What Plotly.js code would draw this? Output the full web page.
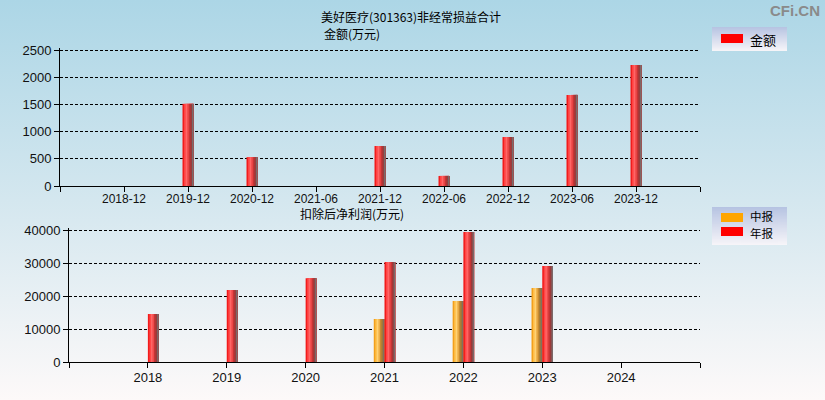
<!DOCTYPE html>
<html>
<head>
<meta charset="utf-8">
<script src="https://cdn.plot.ly/plotly-3.0.1.min.js"></script>
<style>
	html, body { margin: 0; padding: 0; }
	body { background: linear-gradient(to bottom, #acd6e6 0%, #d4e7ef 50%, #fdf9f9 100%); }
	#chart { width: 825px; height: 400px; }
</style>
</head>
<body>
<div id="chart"></div>
<script>
const periods = ["2018-12", "2019-12", "2020-12", "2021-06", "2021-12", "2022-06", "2022-12", "2023-06", "2023-12"];
const amount = [null, 1510, 530, null, 735, 185, 900, 1675, 2225];

const years = ["2018", "2019", "2020", "2021", "2022", "2023", "2024"];
const midReport = [null, null, null, 13100, 18600, 22500, null];
const annualReport = [14600, 21900, 25500, 30400, 39500, 29200, null];

const names = { amount: "金额", mid: "中报", annual: "年报" };

// cylinder look: strips from left to right
const redStrips = ["#f21c1c", "#ff4545", "#ff6666", "#ef4a4a", "#c83434", "#9a3a3a", "#7a6a6a"];
const orangeStrips = ["#f2a01c", "#ffbf4a", "#ffd274", "#eeb04a", "#c88a30", "#a07838", "#807060"];

const font = "Liberation Sans, Arial, sans-serif";
const cjk = "Noto Sans CJK SC, sans-serif";

function px(x) {
	return (x - 60) / 640;
}
function py(y) {
	return 1 - y / 400;
}

function positions(list) {
	return list.map((c, i) => i);
}

function barStrips(xs, ys, colors, left, width, xaxis, yaxis, name) {
	const step = width / colors.length;
	return colors.map((c, i) => ({
		type: "bar",
		name: name,
		x: xs,
		y: ys,
		offset: left + i * step,
		width: width - i * step,
		marker: { color: c, line: { width: 0 } },
		xaxis: xaxis,
		yaxis: yaxis,
		showlegend: false,
		hovertemplate: name + ": %{y}<extra></extra>"
	}));
}

function gradient(top, bottom) {
	const c = document.createElement("canvas");
	c.width = 4;
	c.height = 100;
	const ctx = c.getContext("2d");
	const g = ctx.createLinearGradient(0, 0, 0, 100);
	g.addColorStop(0, top);
	g.addColorStop(1, bottom);
	ctx.fillStyle = g;
	ctx.fillRect(0, 0, 4, 100);
	return c.toDataURL();
}

const topX = positions(periods);
const botX = positions(years);

const data = []
	.concat(barStrips(topX, amount, redStrips, -0.086, 0.172, "x", "y", names.amount))
	.concat(barStrips(botX, midReport, orangeStrips, -0.136, 0.136, "x2", "y2", names.mid))
	.concat(barStrips(botX, annualReport, redStrips, 0, 0.136, "x2", "y2", names.annual));

const legendBg = gradient("#b6c3e2", "#f7f5f9");

function legendBox(y0, y1) {
	return {
		source: legendBg,
		xref: "paper",
		yref: "paper",
		x: px(712),
		y: py(y0),
		sizex: 75 / 640,
		sizey: (y1 - y0) / 400,
		sizing: "stretch",
		xanchor: "left",
		yanchor: "top",
		layer: "below"
	};
}

function swatch(yc, color) {
	return {
		type: "rect",
		xref: "paper",
		yref: "paper",
		x0: px(721),
		x1: px(743),
		y0: py(yc - 4.5),
		y1: py(yc + 4.5),
		fillcolor: color,
		line: { width: 0 }
	};
}

function label(text, x, y, xanchor, size) {
	return {
		text: text,
		xref: "paper",
		yref: "paper",
		x: px(x),
		y: py(y),
		xanchor: xanchor,
		yanchor: "middle",
		showarrow: false,
		font: { family: cjk, size: size || 12, color: "#000" }
	};
}

const axisY = {
	showline: true,
	linecolor: "#000",
	linewidth: 1,
	ticks: "outside",
	ticklen: 5,
	tickcolor: "#000",
	gridcolor: "#000",
	griddash: "3px,2px",
	gridwidth: 1,
	zeroline: false,
	tickformat: "d",
	tickfont: { family: font, size: 13, color: "#111" }
};

const axisX = {
	showline: true,
	linecolor: "#000",
	linewidth: 1,
	ticks: "outside",
	ticklen: 5,
	tickcolor: "#000",
	showgrid: false,
	zeroline: false,
	tickmode: "array"
};

// ranges reach a bit past the top tick so its grid line is kept
const layout = {
	width: 825,
	height: 400,
	margin: { l: 60, r: 125, t: 0, b: 0, pad: 0 },
	paper_bgcolor: "rgba(0,0,0,0)",
	plot_bgcolor: "rgba(0,0,0,0)",
	barmode: "overlay",
	showlegend: false,
	xaxis: Object.assign({}, axisX, {
		domain: [0, 1],
		anchor: "y",
		range: [-1, periods.length],
		tickvals: [-1].concat(topX, [periods.length]),
		ticktext: [""].concat(periods, [""]),
		ticklabelstandoff: -3,
		tickfont: { family: font, size: 12, color: "#111" }
	}),
	yaxis: Object.assign({}, axisY, {
		domain: [py(186), py(48)],
		anchor: "x",
		range: [0, 2537],
		tickvals: [0, 500, 1000, 1500, 2000, 2500]
	}),
	xaxis2: Object.assign({}, axisX, {
		domain: [px(69), 1],
		anchor: "y2",
		range: [-1, years.length],
		tickvals: [-1].concat(botX, [years.length]),
		ticktext: [""].concat(years, [""]),
		ticklabelstandoff: -2,
		tickfont: { family: font, size: 13, color: "#111" }
	}),
	yaxis2: Object.assign({}, axisY, {
		domain: [py(362.3), py(228.3)],
		anchor: "x2",
		range: [0, 40606],
		tickvals: [0, 10000, 20000, 30000, 40000]
	}),
	images: [legendBox(27, 51), legendBox(207, 245)],
	shapes: [swatch(38.5, "#ff0000"), swatch(217.5, "#ffa500"), swatch(231.5, "#ff0000")],
	annotations: [
		label("美好医疗(301363)非经常损益合计", 411, 17, "center"),
		label("金额(万元)", 322, 33, "left"),
		label("扣除后净利润(万元)", 298, 213, "left"),
		label(names.amount, 748, 39, "left", 13),
		label(names.mid, 748, 216, "left", 11.5),
		label(names.annual, 748, 232.5, "left", 11.5),
		{
			text: "<b>CFi.CN</b>",
			xref: "paper",
			yref: "paper",
			x: px(822),
			y: py(10),
			xanchor: "right",
			yanchor: "middle",
			showarrow: false,
			font: { family: font, size: 15, color: "#8a8a8a" }
		}
	]
};

Plotly.newPlot("chart", data, layout, { displayModeBar: false, staticPlot: true });
</script>
</body>
</html>
